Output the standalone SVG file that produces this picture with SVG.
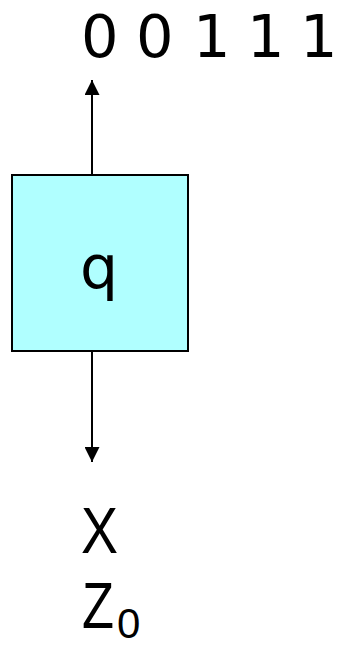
<svg xmlns="http://www.w3.org/2000/svg" width="337" height="647" viewBox="0 0 337 647">
<style>
text{font-family:"DejaVu Sans","Liberation Sans",sans-serif;fill:#000}
.a{font-family:"Liberation Sans",Arial,sans-serif}
.c{stroke:#000;stroke-width:2;fill:none}
</style>
<defs>
<marker id="ah" viewBox="0 0 15 15" refX="15" refY="7.5" markerWidth="15" markerHeight="15" markerUnits="userSpaceOnUse" orient="auto">
<path d="M0,0 L15,7.5 L0,15 z" fill="#000"/>
</marker>
</defs>
<rect width="337" height="647" fill="#fff"/>
<g id="connectors">
<line class="c" x1="92" y1="175" x2="92" y2="80" marker-end="url(#ah)"/>
<line class="c" x1="92" y1="351" x2="92" y2="462" marker-end="url(#ah)"/>
</g>
<g id="output">
<text x="81 110 136 165 193 222 247 275 300" y="57" font-size="59">0 0 1 1 1</text>
</g>
<g id="q">
<rect x="12" y="175" width="176" height="176" fill="#B0FFFF" stroke="#000" stroke-width="2"/>
<text x="99" y="288" font-size="60" text-anchor="middle">q</text>
</g>
<g id="stack">
<text class="a" x="81" y="553" font-size="64" textLength="37" lengthAdjust="spacingAndGlyphs">X</text>
<text class="a" x="82" y="628" font-size="64" textLength="32" lengthAdjust="spacingAndGlyphs">Z</text>
<text class="a" x="117" y="638" font-size="42">0</text>
</g>
</svg>
